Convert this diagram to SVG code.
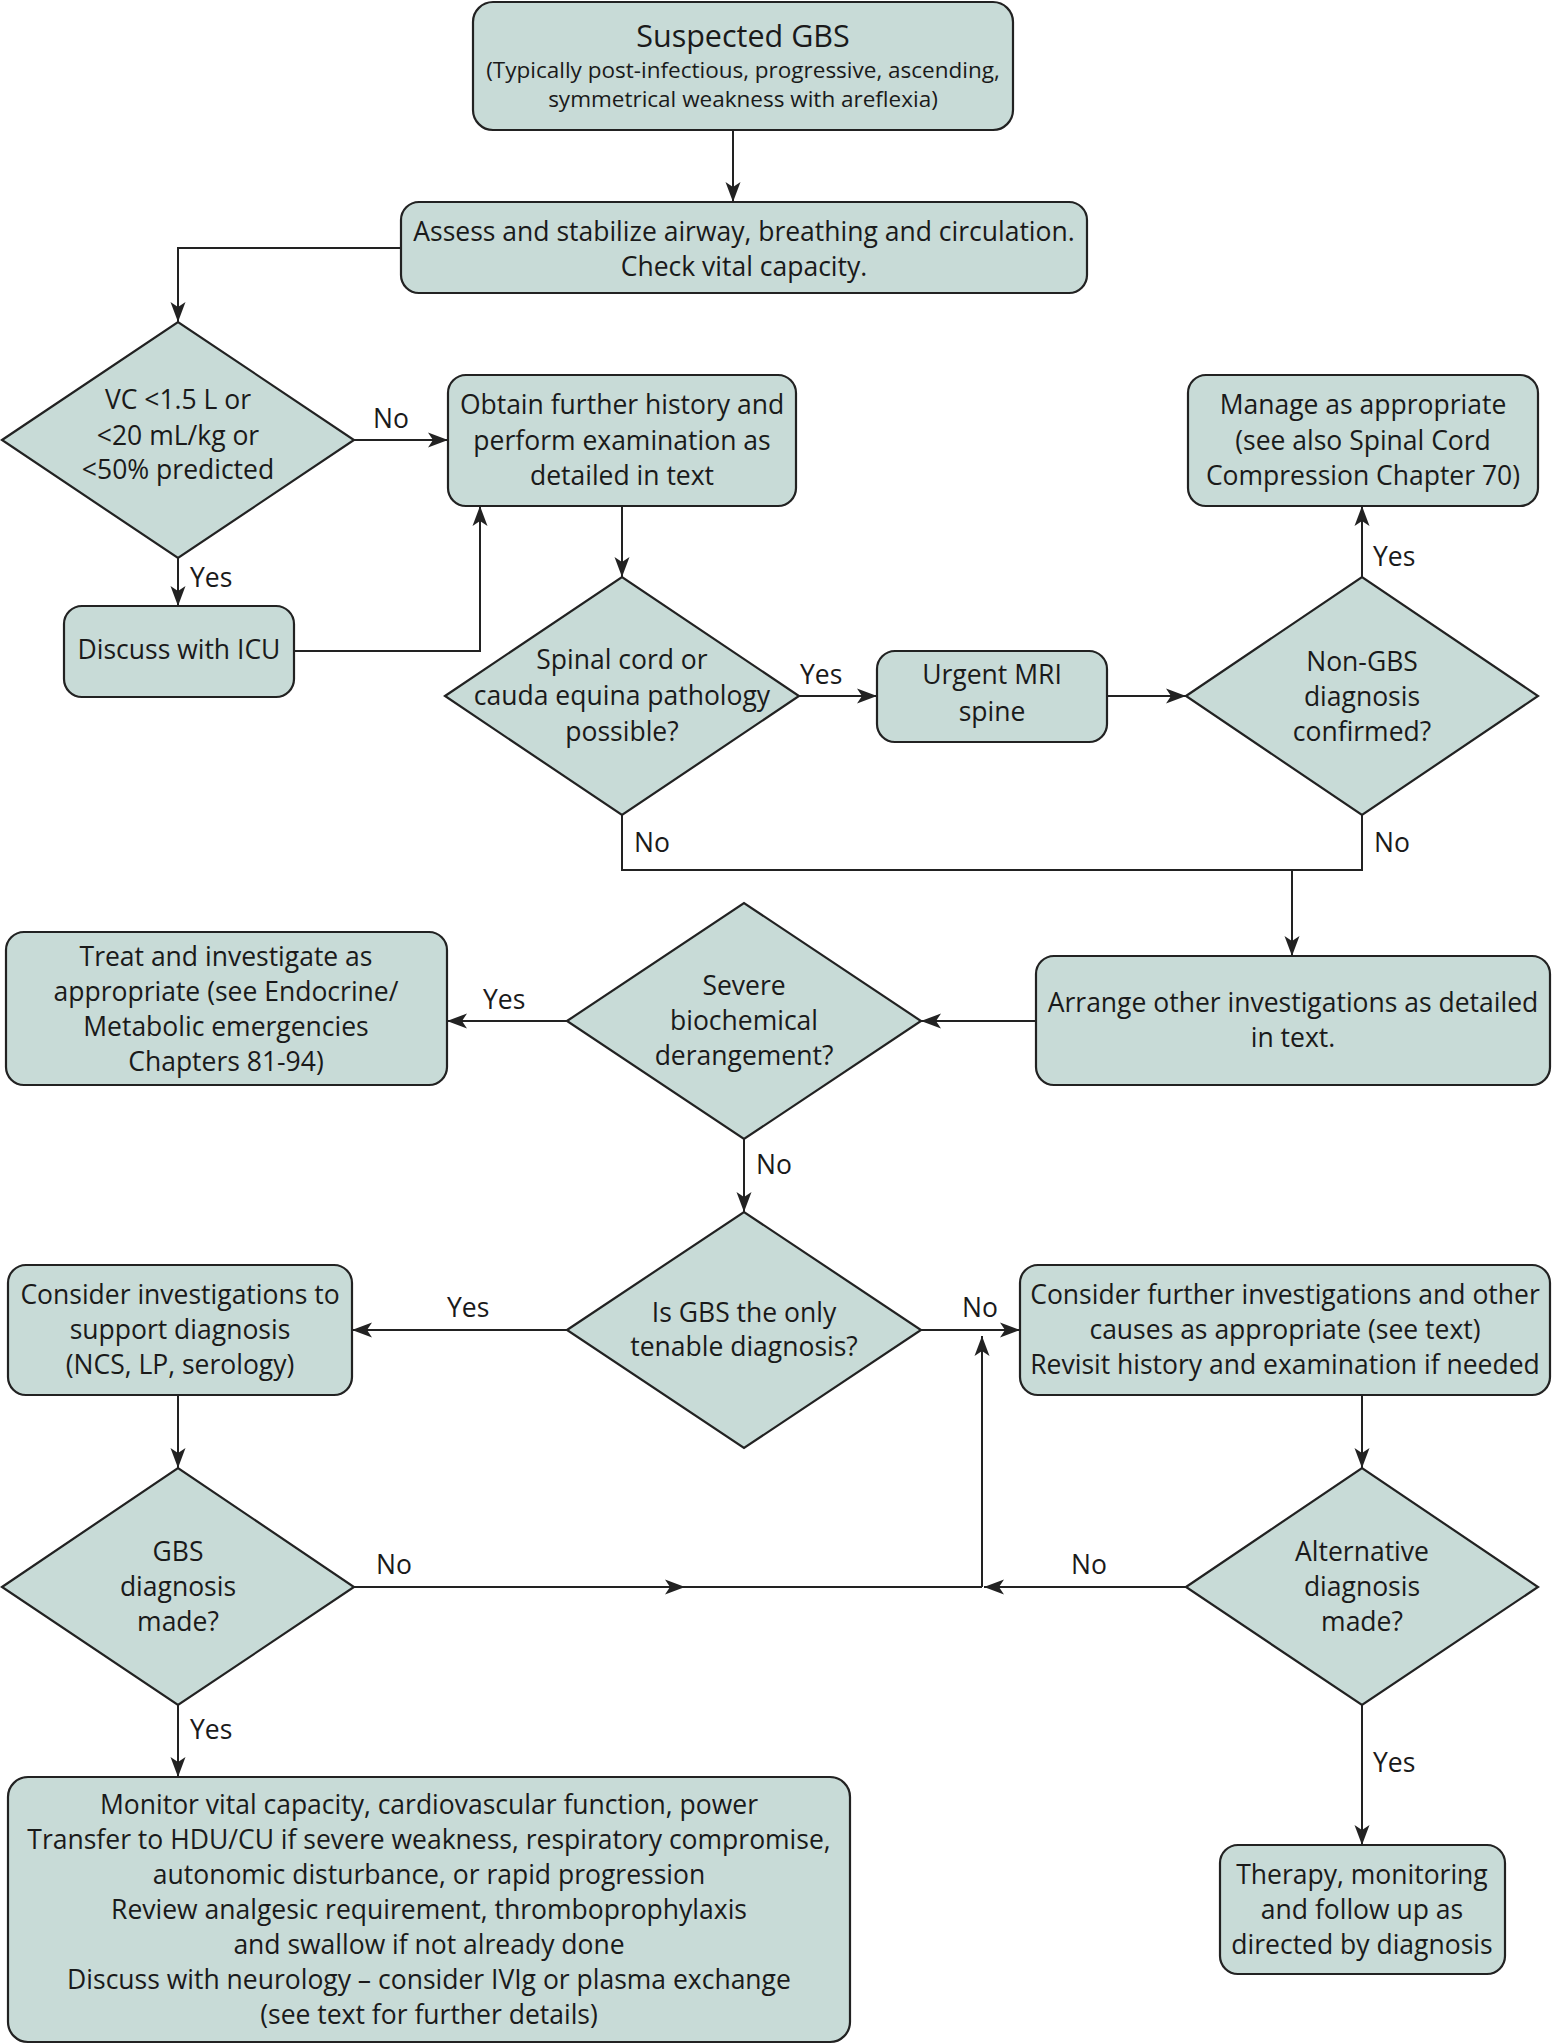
<svg xmlns="http://www.w3.org/2000/svg" width="1552" height="2044" viewBox="0 0 1552 2044">
<style>
.b{fill:#c8dbd7;stroke:#222;stroke-width:2.2}
.t{font-family:"Open Sans","Noto Sans",sans-serif;font-size:26.5px;fill:#1a1a1a;text-anchor:middle}
.l{font-family:"Open Sans","Noto Sans",sans-serif;font-size:26.5px;fill:#1a1a1a}
.c{fill:none;stroke:#222;stroke-width:2}
</style>
<defs>
<marker id="a" markerUnits="userSpaceOnUse" markerWidth="24" markerHeight="20" viewBox="-22 -10 24 20" refX="0" refY="0" orient="auto">
<path d="M-20,-7.5 L0,0 L-20,7.5 L-15,0 Z" fill="#222"/>
</marker>
</defs>
<rect width="1552" height="2044" fill="#fff"/>
<g id="connectors">
<path class="c" d="M733,130 V202" marker-end="url(#a)"/>
<path class="c" d="M401,248 H178 V322" marker-end="url(#a)"/>
<path class="c" d="M354,440 H448" marker-end="url(#a)"/>
<path class="c" d="M178,558 V606" marker-end="url(#a)"/>
<path class="c" d="M294,651 H480 V506" marker-end="url(#a)"/>
<path class="c" d="M622,506 V577" marker-end="url(#a)"/>
<path class="c" d="M799,696 H877" marker-end="url(#a)"/>
<path class="c" d="M1107,696 H1186" marker-end="url(#a)"/>
<path class="c" d="M1362,577 V506" marker-end="url(#a)"/>
<path class="c" d="M622,815 V870 H1362 V815"/>
<path class="c" d="M1292,870 V956" marker-end="url(#a)"/>
<path class="c" d="M1036,1021 H921" marker-end="url(#a)"/>
<path class="c" d="M567,1021 H447" marker-end="url(#a)"/>
<path class="c" d="M744,1139 V1212" marker-end="url(#a)"/>
<path class="c" d="M567,1330 H352" marker-end="url(#a)"/>
<path class="c" d="M921,1330 H1020" marker-end="url(#a)"/>
<path class="c" d="M178,1395 V1468" marker-end="url(#a)"/>
<path class="c" d="M1362,1395 V1468" marker-end="url(#a)"/>
<path class="c" d="M354,1587 H685" marker-end="url(#a)"/>
<path class="c" d="M685,1587 H982"/>
<path class="c" d="M1186,1587 H984" marker-end="url(#a)"/>
<path class="c" d="M982,1587 V1336" marker-end="url(#a)"/>
<path class="c" d="M178,1705 V1777" marker-end="url(#a)"/>
<path class="c" d="M1362,1705 V1845" marker-end="url(#a)"/>
<text class="l" x="373" y="428">No</text>
<text class="l" x="190" y="587">Yes</text>
<text class="l" x="800" y="684">Yes</text>
<text class="l" x="1373" y="566">Yes</text>
<text class="l" x="634" y="852">No</text>
<text class="l" x="1374" y="852">No</text>
<text class="l" x="483" y="1009">Yes</text>
<text class="l" x="756" y="1174">No</text>
<text class="l" x="447" y="1317">Yes</text>
<text class="l" x="962" y="1317">No</text>
<text class="l" x="376" y="1574">No</text>
<text class="l" x="1071" y="1574">No</text>
<text class="l" x="190" y="1739">Yes</text>
<text class="l" x="1373" y="1772">Yes</text>
</g>
<g id="n1">
<rect class="b" x="473" y="2" width="540" height="128" rx="20"/>
<text class="t" x="743" y="47" style="font-size:30.5px">Suspected GBS</text>
<text class="t" x="743" y="78" style="font-size:22.5px">(Typically post-infectious, progressive, ascending,</text>
<text class="t" x="743" y="107" style="font-size:22.5px">symmetrical weakness with areflexia)</text>
</g>
<g id="n2">
<rect class="b" x="401" y="202" width="686" height="91" rx="18"/>
<text class="t" x="744" y="241">Assess and stabilize airway, breathing and circulation.</text>
<text class="t" x="744" y="276">Check vital capacity.</text>
</g>
<g id="n3">
<polygon class="b" points="2,440 178,322 354,440 178,558"/>
<text class="t" x="178" y="409">VC &lt;1.5 L or</text>
<text class="t" x="178" y="445">&lt;20 mL/kg or</text>
<text class="t" x="178" y="479">&lt;50% predicted</text>
</g>
<g id="n4">
<rect class="b" x="448" y="375" width="348" height="131" rx="18"/>
<text class="t" x="622" y="414">Obtain further history and</text>
<text class="t" x="622" y="450">perform examination as</text>
<text class="t" x="622" y="485">detailed in text</text>
</g>
<g id="n5">
<rect class="b" x="64" y="606" width="230" height="91" rx="18"/>
<text class="t" x="179" y="659">Discuss with ICU</text>
</g>
<g id="n6">
<polygon class="b" points="445,696 622,577 799,696 622,815"/>
<text class="t" x="622" y="669">Spinal cord or</text>
<text class="t" x="622" y="705">cauda equina pathology</text>
<text class="t" x="622" y="741">possible?</text>
</g>
<g id="n7">
<rect class="b" x="877" y="651" width="230" height="91" rx="18"/>
<text class="t" x="992" y="684">Urgent MRI</text>
<text class="t" x="992" y="721">spine</text>
</g>
<g id="n8">
<polygon class="b" points="1186,696 1362,577 1538,696 1362,815"/>
<text class="t" x="1362" y="671">Non-GBS</text>
<text class="t" x="1362" y="706">diagnosis</text>
<text class="t" x="1362" y="741">confirmed?</text>
</g>
<g id="n9">
<rect class="b" x="1188" y="375" width="350" height="131" rx="18"/>
<text class="t" x="1363" y="414">Manage as appropriate</text>
<text class="t" x="1363" y="450">(see also Spinal Cord</text>
<text class="t" x="1363" y="485">Compression Chapter 70)</text>
</g>
<g id="n10">
<rect class="b" x="1036" y="956" width="514" height="129" rx="18"/>
<text class="t" x="1293" y="1012">Arrange other investigations as detailed</text>
<text class="t" x="1293" y="1047">in text.</text>
</g>
<g id="n11">
<polygon class="b" points="567,1021 744,903 921,1021 744,1139"/>
<text class="t" x="744" y="995">Severe</text>
<text class="t" x="744" y="1030">biochemical</text>
<text class="t" x="744" y="1065">derangement?</text>
</g>
<g id="n12">
<rect class="b" x="6" y="932" width="441" height="153" rx="18"/>
<text class="t" x="226" y="966">Treat and investigate as</text>
<text class="t" x="226" y="1001">appropriate (see Endocrine/</text>
<text class="t" x="226" y="1036">Metabolic emergencies</text>
<text class="t" x="226" y="1071">Chapters 81-94)</text>
</g>
<g id="n13">
<polygon class="b" points="567,1330 744,1212 921,1330 744,1448"/>
<text class="t" x="744" y="1322">Is GBS the only</text>
<text class="t" x="744" y="1356">tenable diagnosis?</text>
</g>
<g id="n14">
<rect class="b" x="8" y="1265" width="344" height="130" rx="18"/>
<text class="t" x="180" y="1304">Consider investigations to</text>
<text class="t" x="180" y="1339">support diagnosis</text>
<text class="t" x="180" y="1374">(NCS, LP, serology)</text>
</g>
<g id="n15">
<rect class="b" x="1020" y="1265" width="530" height="130" rx="18"/>
<text class="t" x="1285" y="1304">Consider further investigations and other</text>
<text class="t" x="1285" y="1339">causes as appropriate (see text)</text>
<text class="t" x="1285" y="1374">Revisit history and examination if needed</text>
</g>
<g id="n16">
<polygon class="b" points="2,1587 178,1468 354,1587 178,1705"/>
<text class="t" x="178" y="1561">GBS</text>
<text class="t" x="178" y="1596">diagnosis</text>
<text class="t" x="178" y="1631">made?</text>
</g>
<g id="n17">
<polygon class="b" points="1186,1587 1362,1468 1538,1587 1362,1705"/>
<text class="t" x="1362" y="1561">Alternative</text>
<text class="t" x="1362" y="1596">diagnosis</text>
<text class="t" x="1362" y="1631">made?</text>
</g>
<g id="n18">
<rect class="b" x="8" y="1777" width="842" height="265" rx="20"/>
<text class="t" x="429" y="1814">Monitor vital capacity, cardiovascular function, power</text>
<text class="t" x="429" y="1849">Transfer to HDU/CU if severe weakness, respiratory compromise,</text>
<text class="t" x="429" y="1884">autonomic disturbance, or rapid progression</text>
<text class="t" x="429" y="1919">Review analgesic requirement, thromboprophylaxis</text>
<text class="t" x="429" y="1954">and swallow if not already done</text>
<text class="t" x="429" y="1989">Discuss with neurology – consider IVIg or plasma exchange</text>
<text class="t" x="429" y="2024">(see text for further details)</text>
</g>
<g id="n19">
<rect class="b" x="1220" y="1845" width="285" height="129" rx="18"/>
<text class="t" x="1362" y="1884">Therapy, monitoring</text>
<text class="t" x="1362" y="1919">and follow up as</text>
<text class="t" x="1362" y="1954">directed by diagnosis</text>
</g>
</svg>
